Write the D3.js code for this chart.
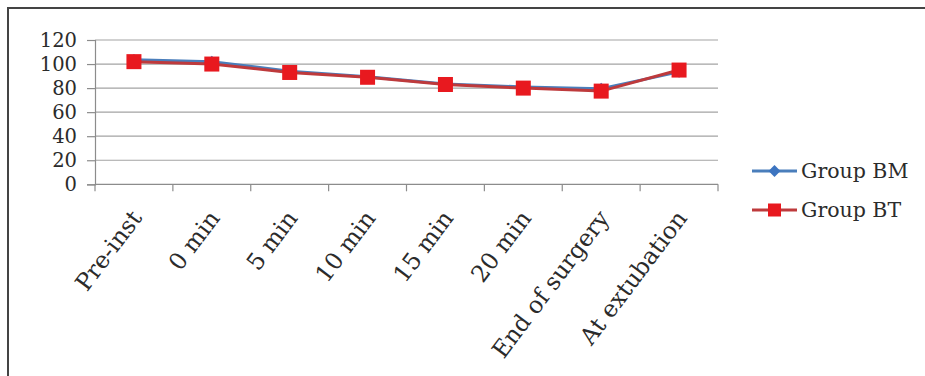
<!DOCTYPE html>
<html>
<head>
<meta charset="utf-8">
<script src="https://cdn.jsdelivr.net/npm/d3@7"></script>
<style>
  html, body { margin: 0; padding: 0; background: #fff; }
  svg { display: block; }
  text { font-family: "DejaVu Serif", "Liberation Serif", serif; fill: #2b2b2b; }
</style>
</head>
<body>
<svg id="chart" width="925" height="376"></svg>
<script>
// Time points of measurement
const categories = ["Pre-inst", "0 min", "5 min", "10 min", "15 min", "20 min", "End of surgery", "At extubation"];
// Mean values per group
const groupBM = [103.5, 102, 94, 89.5, 83.5, 81, 79.5, 93.5];
const groupBT = [102, 100, 93, 89, 83, 80, 77.5, 95];
const yTicks = [0, 20, 40, 60, 80, 100, 120];

const svg = d3.select("#chart");
const W = 925, H = 376;
const FONT = "DejaVu Serif, Liberation Serif, serif";

// Outer frame (top and left edges)
svg.append("path")
  .attr("d", `M8,${H} L8,8 L${W},8`)
  .attr("fill", "none").attr("stroke", "#444").attr("stroke-width", 2);

const plot = { left: 95, right: 718, top: 40, bottom: 184.3 };

const x = d3.scaleBand().domain(categories).range([plot.left, plot.right]);
const y = d3.scaleLinear().domain([0, 120]).range([plot.bottom, plot.top]);

// Horizontal gridlines
svg.append("g")
  .selectAll("line")
  .data(yTicks.filter(d => d > 0))
  .join("line")
  .attr("x1", plot.left).attr("x2", plot.right)
  .attr("y1", d => y(d)).attr("y2", d => y(d))
  .attr("stroke", "#a3a3a3").attr("stroke-width", 1.2);

// Y axis
const yAxis = svg.append("g")
  .attr("transform", `translate(${plot.left},0)`)
  .call(d3.axisLeft(y).tickValues(yTicks).tickSize(8).tickPadding(10));
yAxis.select(".domain").attr("stroke", "#8c8c8c").attr("stroke-width", 1.2);
yAxis.selectAll(".tick line").attr("stroke", "#8c8c8c").attr("stroke-width", 1.2);
yAxis.selectAll(".tick text")
  .attr("font-size", 19.5).attr("fill", "#2b2b2b")
  .attr("font-family", FONT);

// X axis with boundary ticks between categories
const xAxisG = svg.append("g").attr("transform", `translate(0,${plot.bottom})`);
xAxisG.append("line")
  .attr("x1", plot.left).attr("x2", plot.right)
  .attr("stroke", "#8c8c8c").attr("stroke-width", 1.2);
const bounds = categories.map(c => x(c)).concat([x(categories[categories.length - 1]) + x.bandwidth()]);
xAxisG.selectAll("line.tk")
  .data(bounds)
  .join("line").attr("class", "tk")
  .attr("x1", d => d).attr("x2", d => d)
  .attr("y1", 0).attr("y2", 7)
  .attr("stroke", "#8c8c8c").attr("stroke-width", 1.2);
xAxisG.selectAll("text")
  .data(categories)
  .join("text")
  .attr("transform", d => `translate(${x(d) + x.bandwidth() / 2 + 9},${34}) rotate(-53)`)
  .attr("text-anchor", "end")
  .attr("font-size", 23.5)
  .text(d => d);

const cx = (d, i) => x(categories[i]) + x.bandwidth() / 2;
const line = d3.line().x(cx).y(d => y(d));

// Group BM: blue line with diamond markers
svg.append("path").datum(groupBM)
  .attr("d", line).attr("fill", "none")
  .attr("stroke", "#4a7ebb").attr("stroke-width", 3);
svg.append("g").selectAll("path")
  .data(groupBM).join("path")
  .attr("d", d3.symbol(d3.symbolDiamond2, 90))
  .attr("transform", (d, i) => `translate(${cx(d, i)},${y(d)})`)
  .attr("fill", "#3c74c0");

// Group BT: red line with square markers
svg.append("path").datum(groupBT)
  .attr("d", line).attr("fill", "none")
  .attr("stroke", "#be3a3c").attr("stroke-width", 3);
svg.append("g").selectAll("rect")
  .data(groupBT).join("rect")
  .attr("x", (d, i) => cx(d, i) - 7.5)
  .attr("y", d => y(d) - 7.5)
  .attr("width", 15).attr("height", 15)
  .attr("fill", "#e8191f");

// Legend
const legend = [
  { name: "Group BM", color: "#4a7ebb", mark: "diamond", y: 171 },
  { name: "Group BT", color: "#be3a3c", mark: "square", y: 210 }
];
const lg = svg.append("g");
legend.forEach(l => {
  lg.append("line")
    .attr("x1", 752).attr("x2", 797).attr("y1", l.y).attr("y2", l.y)
    .attr("stroke", l.color).attr("stroke-width", 3);
  if (l.mark === "diamond") {
    lg.append("path")
      .attr("d", d3.symbol(d3.symbolDiamond2, 90))
      .attr("transform", `translate(774.5,${l.y})`)
      .attr("fill", "#3c74c0");
  } else {
    lg.append("rect")
      .attr("x", 768).attr("y", l.y - 6.5).attr("width", 13).attr("height", 13)
      .attr("fill", "#e8191f");
  }
  lg.append("text")
    .attr("x", 801).attr("y", l.y + 7)
    .attr("font-size", 20.5)
    .text(l.name);
});
</script>
</body>
</html>
